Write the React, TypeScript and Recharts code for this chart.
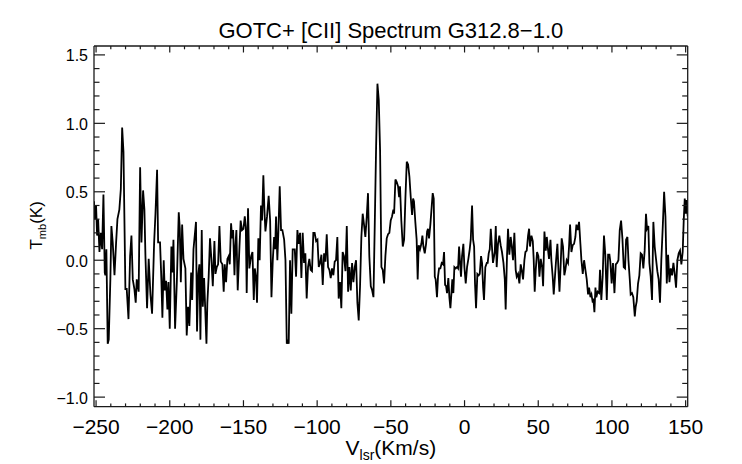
import { Line, LineChart, XAxis, YAxis } from "recharts";

// Spectrum (velocity in km/s, Tmb in K)
const velocity = [
  -251.4, -250.9, -250.0, -249.3, -248.6, -247.7, -246.8, -245.9, -245.0, -244.1,
  -243.7, -243.0, -242.1, -241.4, -240.3, -239.6, -238.7, -237.5, -236.4, -235.5,
  -234.2, -233.2, -232.3, -231.4, -230.1, -229.2, -228.0, -226.9, -226.0, -225.1,
  -224.0, -223.1, -222.4, -221.1, -220.1, -219.2, -218.1, -217.2, -216.5, -215.4,
  -214.3, -213.1, -212.0, -210.6, -209.7, -208.6, -207.9, -206.6, -205.7, -205.0,
  -204.1, -203.4, -202.5, -201.6, -200.9, -200.0, -198.9, -198.2, -197.5, -196.4,
  -195.2, -193.9, -193.2, -192.5, -191.6, -190.7, -189.4, -188.5, -187.6, -186.7,
  -185.5, -184.8, -183.9,
  -182.2, -181.5, -180.6, -179.9, -179.2, -178.3, -177.6, -176.7, -176.0, -175.1,
  -174.5, -173.6, -172.7, -171.7, -170.8, -169.7, -169.0, -168.1, -167.2, -166.3,
  -165.4, -164.3, -163.4, -162.7, -161.8, -160.9, -160.0, -159.3, -158.4, -157.7,
  -157.0, -156.1, -155.5, -154.8, -153.9, -152.7, -151.9, -151.0, -150.0, -149.1,
  -148.4, -147.8, -146.9, -146.0, -144.8, -143.9, -143.0, -142.3, -141.4, -140.8,
  -139.9, -139.0, -138.1, -137.4, -136.5, -135.8, -135.1, -134.0, -132.9, -131.9,
  -131.0, -130.1, -129.2, -128.5, -127.9, -127.0, -126.3, -125.4, -124.5, -123.6,
  -122.4, -121.5, -120.6, -120.0, -119.3, -118.4, -117.5, -116.6,
  -115.2, -114.3, -113.4, -112.5, -111.6, -110.7, -109.8, -108.9, -108.0, -107.1,
  -106.2, -105.3, -104.4, -103.5, -102.6, -101.7, -100.7, -99.8, -98.9, -98.0,
  -97.1, -96.2, -95.3, -94.4, -93.5, -92.6, -91.7, -90.8, -89.9, -89.0,
  -88.1, -87.2, -86.3, -85.4, -84.5, -83.6, -82.7, -81.8, -80.8, -79.9,
  -79.0, -78.1, -77.2, -76.3, -75.4, -74.5, -73.6, -72.7, -71.8, -70.9,
  -70.0, -69.1, -68.2, -67.3, -66.4, -65.5, -64.6, -63.6, -62.7, -61.8,
  -60.9, -60.0, -59.1, -58.2, -57.3, -56.4, -55.5, -54.6, -53.7, -52.8,
  -51.9, -51.0, -50.1, -49.2, -48.3,
  -47.8, -46.9, -46.0, -45.1, -44.4, -43.8, -42.9, -41.9, -41.0, -40.1,
  -39.2, -38.3, -37.4, -36.5, -35.6, -34.9, -34.3, -33.4, -32.5, -31.8,
  -31.1, -30.2, -29.3, -28.6, -27.9, -27.0, -26.1, -25.4, -24.8, -24.1,
  -23.2, -22.3, -21.6, -20.9, -20.2, -19.6, -18.7, -18.0, -17.3, -16.4,
  -15.5, -14.6, -13.9, -13.2, -12.5, -11.9, -11.0, -10.3, -9.6, -8.9,
  -8.3, -7.6, -6.9, -6.0, -5.1, -4.4, -3.7, -3.0, -2.4, -1.7,
  -0.8, -0.1, 0.8, 1.7, 2.6, 3.5, 4.2, 5.1, 5.8, 6.5,
  7.1, 7.8, 8.7, 9.6, 10.3, 11.2, 11.9, 12.6, 13.2, 14.1,
  15.1, 15.7, 16.4, 17.1, 17.8, 18.7, 19.3,
  20.5, 21.2, 21.8, 22.7, 23.6, 24.5, 25.4, 26.4, 27.3, 27.9,
  28.8, 29.5, 30.4, 31.3, 32.0, 32.9, 33.8, 34.7, 35.4, 36.3,
  37.2, 38.1, 38.8, 39.7, 40.6, 41.3, 42.2, 43.1, 43.8, 44.4,
  45.4, 46.3, 46.9, 47.6, 48.3, 49.2, 50.1, 50.8, 51.7, 52.6,
  53.3, 54.2, 55.1, 55.8, 56.7, 57.3, 58.3, 58.9, 59.8, 60.5,
  61.4, 62.1, 63.0, 63.7, 64.4, 65.3, 65.9, 66.8, 67.7, 68.4,
  69.3, 70.2, 70.9, 71.6, 72.5, 73.4, 74.3, 75.2, 75.9, 76.8,
  77.7, 78.6, 79.3, 80.2, 81.1, 82.0, 82.9, 83.8, 84.5, 85.4,
  86.1, 87.0,
  87.4, 88.1, 88.8, 89.4, 90.3, 91.3, 91.9, 92.8, 93.7, 94.6,
  95.5, 96.5, 97.4, 98.3, 98.9, 99.8, 100.7, 101.7, 102.6, 103.5,
  104.4, 105.3, 106.2, 107.1, 108.0, 108.9, 109.6, 110.5, 111.2, 112.1,
  112.7, 113.6, 114.5, 115.5, 116.1, 116.8, 117.7, 118.6, 119.5, 120.4,
  121.3, 122.2, 123.1, 123.8, 124.7, 125.4, 126.3, 127.2, 128.1, 129.0,
  129.9, 130.8, 131.7, 132.6, 133.5, 134.5, 135.4, 136.3, 137.2, 138.1,
  139.0, 139.9, 140.8, 141.7, 142.6, 143.5, 144.4, 145.3, 146.2, 147.1,
  148.0, 148.7, 149.4, 150.1, 150.7, 151.4,
];

const tmb = [
  0.43, 0.30, 0.40, 0.18, 0.30, 0.06, 0.20, 0.08, 0.48, -0.09,
  -0.11, 0.08, -0.61, -0.58, -0.14, 0.25, 0.13, -0.11, 0.13, 0.30,
  0.37, 0.52, 0.97, 0.79, -0.21, -0.21, -0.43, 0.03, 0.18, -0.14,
  -0.21, -0.31, -0.14, -0.23, 0.68, 0.13, 0.51, 0.37, 0.03, -0.35,
  0.01, -0.25, -0.39, 0.13, 0.34, 0.66, 0.13, 0.13, -0.14, -0.42,
  0.00, -0.22, -0.15, -0.36, -0.16, -0.50, 0.10, -0.09, 0.15, -0.50,
  -0.16, 0.35, 0.23, -0.16, 0.26, 0.01, -0.06, -0.55, -0.34, -0.48,
  -0.09, -0.29, 0.08,
  0.28, -0.52, -0.10, -0.03, -0.58, 0.22, -0.34, -0.13, -0.34, -0.61,
  -0.31, -0.12, 0.16, 0.00, -0.19, 0.14, -0.10, -0.05, -0.03, 0.25,
  -0.01, -0.03, -0.23, -0.03, -0.16, 0.01, 0.03, -0.03, 0.27, 0.16,
  0.22, -0.11, 0.10, 0.22, -0.22, 0.10, 0.29, 0.22, 0.23, 0.32,
  0.24, -0.24, 0.38, -0.06, 0.03, 0.06, -0.29, -0.06, -0.13, -0.31,
  0.16, 0.00, 0.40, 0.29, 0.62, 0.37, 0.21, 0.32, 0.47, 0.29,
  -0.27, 0.00, 0.17, 0.08, 0.32, 0.00, 0.21, 0.54, 0.22, 0.22,
  0.15, 0.00, -0.61, -0.58, -0.61, 0.00, -0.39, 0.08,
  0.08, -0.12, 0.22, 0.12, 0.20, -0.13, 0.20, -0.02, 0.05, -0.28,
  -0.05, 0.01, -0.07, -0.08, 0.20, 0.20, 0.14, 0.15, -0.05, -0.02,
  0.04, -0.18, 0.05, -0.01, 0.19, -0.05, -0.07, -0.13, -0.06, -0.11,
  -0.01, 0.00, 0.17, -0.28, -0.16, -0.35, 0.06, 0.03, -0.08, 0.25,
  -0.23, -0.05, -0.22, -0.02, -0.16, -0.05, 0.00, -0.31, -0.44, -0.19,
  0.17, 0.34, 0.26, 0.17, 0.31, 0.49, 0.03, -0.19, -0.22, -0.27,
  0.27, 0.83, 1.29, 1.17, 0.80, -0.05, -0.07, -0.17, 0.03, 0.16,
  0.19, 0.20, 0.29, 0.32, 0.37,
  0.34, 0.59, 0.57, 0.54, 0.46, 0.54, 0.29, 0.10, 0.15, 0.46,
  0.72, 0.70, 0.61, 0.46, 0.33, 0.45, 0.43, 0.28, 0.15, -0.14,
  0.11, 0.08, 0.12, 0.18, 0.10, 0.05, 0.12, 0.21, 0.23, 0.16,
  0.26, 0.39, 0.49, 0.45, -0.12, -0.14, -0.27, -0.12, -0.06, -0.06,
  -0.02, -0.03, 0.06, -0.18, -0.19, -0.24, -0.13, -0.27, -0.35, -0.24,
  -0.14, -0.24, -0.05, -0.06, -0.05, -0.06, 0.10, -0.03, -0.12, 0.03,
  0.12, -0.05, -0.17, -0.05, 0.01, 0.08, 0.15, 0.40, 0.15, 0.10,
  -0.17, -0.35, -0.10, -0.11, -0.10, 0.03, -0.02, -0.20, -0.29, -0.05,
  -0.02, -0.02, 0.05, 0.08, 0.23, 0.08, -0.02,
  0.06, 0.25, -0.05, 0.12, 0.18, 0.11, 0.06, -0.02, -0.14, -0.36,
  0.03, 0.23, 0.04, 0.17, 0.11, 0.00, 0.20, -0.07, -0.12, -0.10,
  -0.17, -0.03, -0.07, -0.14, 0.00, 0.06, 0.07, 0.18, 0.23, 0.10,
  0.18, 0.14, 0.01, -0.23, -0.07, 0.06, 0.03, -0.12, 0.01, -0.05,
  -0.19, 0.21, 0.07, 0.17, 0.07, 0.01, 0.15, 0.00, -0.12, -0.25,
  -0.11, 0.00, 0.12, -0.07, -0.23, -0.01, 0.16, 0.10, -0.11, -0.07,
  0.00, -0.02, 0.10, 0.26, 0.06, 0.11, 0.12, 0.17, 0.26, 0.22,
  0.28, 0.12, 0.00, -0.10, 0.00, -0.07, -0.14, -0.25, -0.20, -0.27,
  -0.25, -0.31,
  -0.28, -0.38, -0.20, -0.27, -0.23, -0.24, -0.07, -0.29, -0.12, 0.18,
  0.04, -0.29, 0.04, 0.04, -0.01, -0.17, -0.02, -0.24, -0.03, -0.02,
  0.00, 0.22, 0.29, 0.16, -0.05, -0.06, 0.15, 0.17, 0.00, -0.14,
  -0.25, -0.24, -0.27, -0.41, -0.34, -0.30, -0.17, -0.11, 0.05, 0.04,
  -0.06, 0.07, 0.34, 0.23, 0.25, -0.02, -0.12, -0.29, 0.28, 0.10,
  0.01, -0.08, -0.14, -0.31, 0.00, 0.25, 0.50, 0.32, -0.17, 0.04,
  -0.16, -0.06, -0.11, -0.02, -0.10, -0.20, 0.00, 0.05, 0.07, -0.03,
  0.06, 0.29, 0.45, 0.34, 0.44, 0.32,
];

const xMajorTicks = [-250, -200, -150, -100, -50, 0, 50, 100, 150];
const yMajorTicks = [-1.0, -0.5, 0.0, 0.5, 1.0, 1.5];
const titleText = "GOTC+ [CII] Spectrum G312.8\u22121.0";

const xDomain = [-251.4, 151.4];
const yDomain = [-1.07, 1.565];

// IDL style minor ticks: 10 km/s and 0.1 K
const xTicks = Array.from({ length: 41 }, (_, i) => -250 + i * 10);
const yTicks = Array.from({ length: 26 }, (_, i) => (i - 10) / 10);

const data = velocity.map((v, i) => ({ v, t: tmb[i] }));

const FONT = '"Liberation Sans", Arial, Helvetica, sans-serif';
const INK = "#1a1a1a";
const textStyle = { fill: "#000", stroke: "none" };

const fmt = (v: number, digits: number) =>
  (v < -1e-9 ? "\u2212" : "") + Math.abs(v).toFixed(digits);

const isMajorX = (v: number) => xMajorTicks.some((m) => Math.abs(m - v) < 1e-6);
const isMajorY = (v: number) => yMajorTicks.some((m) => Math.abs(m - v) < 1e-6);

function XTick(props: any) {
  const { x, y, payload, side } = props;
  const v = payload.value;
  const major = isMajorX(v);
  const len = major ? 6.5 : 3.3;
  const dir = side === "bottom" ? -1 : 1;
  return (
    <g>
      <line x1={x} x2={x} y1={y} y2={y + dir * len} stroke={INK} strokeWidth={1.2} />
      {major && side === "bottom" && (
        <text x={x} y={y + 27.5} textAnchor="middle" fontSize={21} fontFamily={FONT} style={textStyle}>
          {fmt(v, 0)}
        </text>
      )}
    </g>
  );
}

function YTick(props: any) {
  const { x, y, payload, side } = props;
  const v = payload.value;
  const major = isMajorY(v);
  const len = major ? 11 : 5.5;
  const dir = side === "left" ? 1 : -1;
  return (
    <g>
      <line x1={x} x2={x + dir * len} y1={y} y2={y} stroke={INK} strokeWidth={1.2} />
      {major && side === "left" && (
        <text x={x - 6} y={y + 6.5} textAnchor="end" fontSize={16} fontFamily={FONT} style={textStyle}>
          {fmt(v, 1)}
        </text>
      )}
    </g>
  );
}

function XTitle(props: any) {
  const vb = props.viewBox || { x: 86, y: 398.7, width: 593.7, height: 1 };
  const cx = vb.x + vb.width / 2;
  const y = vb.y + 48.5;
  return (
    <text x={cx} y={y} textAnchor="middle" fontSize={21} fontFamily={FONT} style={textStyle}>
      V
      <tspan fontSize={14} dy={5}>lsr</tspan>
      <tspan dy={-5}>(Km/s)</tspan>
    </text>
  );
}

function YTitle(props: any) {
  const vb = props.viewBox || { x: 85, y: 38, width: 1, height: 360.7 };
  const cx = vb.x + (vb.width || 0) - 52.3;
  const cy = vb.y + vb.height / 2 - 1;
  return (
    <text
      x={cx}
      y={cy}
      transform={`rotate(-90 ${cx} ${cy})`}
      textAnchor="middle"
      fontSize={17}
      fontFamily={FONT}
      style={textStyle}
    >
      T
      <tspan fontSize={11} dy={4}>mb</tspan>
      <tspan dy={-4}>(K)</tspan>
    </text>
  );
}

function Title(props: any) {
  const vb = props.viewBox || { x: 86, y: 37, width: 593.7, height: 1 };
  const top = vb.y + (vb.height || 0);
  return (
    <text x={vb.x + vb.width / 2} y={top - 8} textAnchor="middle" fontSize={22} fontFamily={FONT} style={textStyle}>
      {titleText}
    </text>
  );
}

const axisLine = { stroke: INK, strokeWidth: 1.3 };

export default function App() {
  return (
    <LineChart
      width={734}
      height={456}
      data={data}
      margin={{ top: 37, right: 53.3, bottom: 56.3, left: 85 }}
    >
      <XAxis
        xAxisId="b"
        dataKey="v"
        type="number"
        domain={xDomain}
        allowDataOverflow
        ticks={xTicks}
        interval={0}
        height={1}
        tickSize={0}
        tickMargin={0}
        tickLine={false}
        axisLine={axisLine}
        tick={(p: any) => <XTick {...p} side="bottom" />}
        label={<XTitle />}
      />
      <XAxis
        xAxisId="t"
        orientation="top"
        dataKey="v"
        type="number"
        domain={xDomain}
        allowDataOverflow
        ticks={xTicks}
        interval={0}
        height={1}
        tickSize={0}
        tickMargin={0}
        tickLine={false}
        axisLine={axisLine}
        tick={(p: any) => <XTick {...p} side="top" />}
        label={<Title />}
      />
      <YAxis
        yAxisId="l"
        type="number"
        domain={yDomain}
        allowDataOverflow
        ticks={yTicks}
        interval={0}
        width={1}
        tickSize={0}
        tickMargin={0}
        tickLine={false}
        axisLine={axisLine}
        tick={(p: any) => <YTick {...p} side="left" />}
        label={<YTitle />}
      />
      <YAxis
        yAxisId="r"
        orientation="right"
        type="number"
        domain={yDomain}
        allowDataOverflow
        ticks={yTicks}
        interval={0}
        width={1}
        tickSize={0}
        tickMargin={0}
        tickLine={false}
        axisLine={axisLine}
        tick={(p: any) => <YTick {...p} side="right" />}
      />
      <Line
        xAxisId="b"
        yAxisId="l"
        type="linear"
        dataKey="t"
        stroke="#000"
        strokeWidth={1.8}
        dot={false}
        isAnimationActive={false}
      />
    </LineChart>
  );
}
